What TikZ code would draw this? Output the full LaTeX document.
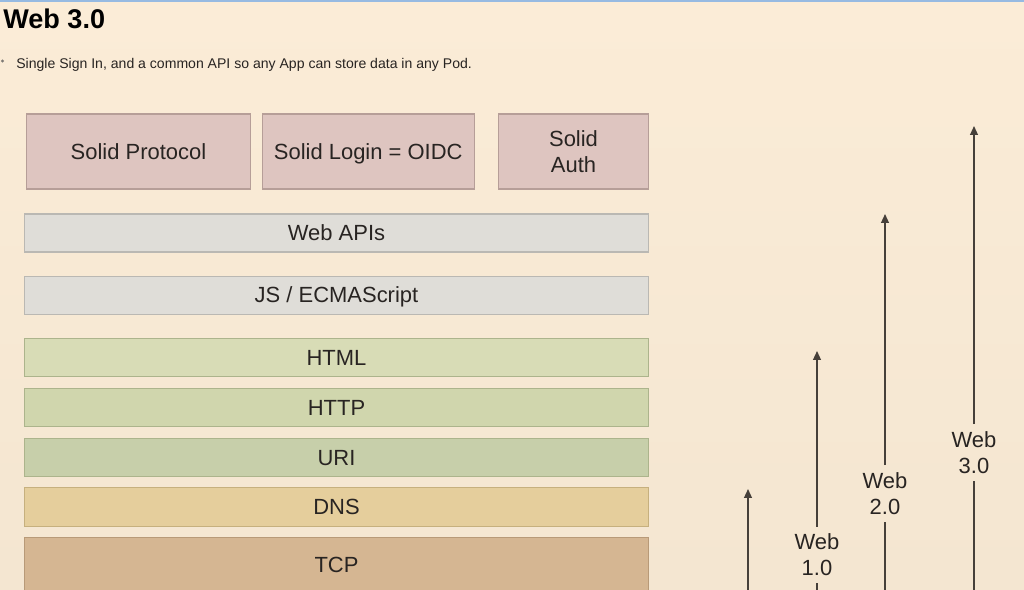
\documentclass[tikz,border=0pt]{standalone}
\usepackage{fontspec}
\setmainfont{Liberation Sans}
\usetikzlibrary{positioning,arrows.meta}
\usepackage{xcolor}
\definecolor{bgColor}{RGB}{251,236,215}
\definecolor{bgLowColor}{RGB}{244,230,209}
\definecolor{barColor}{RGB}{150,186,226}
\definecolor{inkColor}{RGB}{40,36,34}
\definecolor{solidColor}{RGB}{222,197,192}
\definecolor{solidEdge}{RGB}{182,158,152}
\definecolor{apiColor}{RGB}{223,221,216}
\definecolor{apiEdge}{RGB}{186,184,179}
\definecolor{htmlColor}{RGB}{216,220,182}
\definecolor{httpColor}{RGB}{208,214,173}
\definecolor{uriColor}{RGB}{199,207,170}
\definecolor{webEdge}{RGB}{172,180,140}
\definecolor{dnsColor}{RGB}{229,206,156}
\definecolor{dnsEdge}{RGB}{198,176,126}
\definecolor{tcpColor}{RGB}{213,182,146}
\definecolor{tcpEdge}{RGB}{184,154,120}
\definecolor{arrowColor}{RGB}{70,64,58}
\newcommand{\boxfont}{\fontsize{12.5}{14.8}\selectfont}
\newcommand{\headfont}{\fontsize{15.4}{18}\selectfont\bfseries}
\newcommand{\notefont}{\fontsize{8}{9.6}\selectfont}

\begin{document}
\begin{tikzpicture}[x=0.02cm, y=-0.02cm,
        solid/.style={draw=solidEdge, fill=solidColor, line width=0.6pt, minimum height=1.5cm, inner sep=0pt, align=center, font=\boxfont, text=inkColor},
        oneline/.style={text height=9pt, text depth=0pt},
        layer/.style={draw, line width=0.6pt, minimum width=12.5cm, minimum height=0.76cm, inner sep=0pt, oneline, font=\boxfont, text=inkColor},
        era/.style={align=center, font=\boxfont, text=inkColor, inner xsep=1pt, inner ysep=4pt},
        stem/.style={line width=0.8pt, arrowColor},
        arr/.style={-{Triangle[length=5pt, width=4.4pt]}, line width=0.8pt, arrowColor}
      ]
      \useasboundingbox (0,0) rectangle (1024,589);
      \shade[top color=bgColor, bottom color=bgLowColor] (0,0) rectangle (1024,589);
      \draw[barColor, line width=1.2pt] (0,0.5) -- (1024,0.5);

      % heading
      \node[anchor=base west, inner sep=0pt, font=\headfont, text=black] (title) at (3,28) {Web 3.0};
      \fill[arrowColor!70] (2.5,61) circle (0.9pt);
      \node[anchor=base west, inner sep=0pt, font=\notefont, text=inkColor] (note) at (16,68) {Single Sign In, and a common API so any App can store data in any Pod.};

      % solid row
      \node[solid, oneline, minimum width=4.48cm] (proto) at (138.5,151.5) {Solid Protocol};
      \node[solid, oneline, minimum width=4.25cm, right=0.21cm of proto] (login) {Solid Login = OIDC};
      \node[solid, minimum width=3cm, right=0.46cm of login] (auth) {Solid\\Auth};

      % stack
      \node[layer, fill=apiColor, draw=apiEdge] (api) at (336.5,233) {Web APIs};
      \node[layer, fill=apiColor, draw=apiEdge, below=0.46cm of api] (js) {JS / ECMAScript};
      \node[layer, fill=htmlColor, draw=webEdge, below=0.46cm of js] (html) {HTML};
      \node[layer, fill=httpColor, draw=webEdge, below=0.22cm of html] (http) {HTTP};
      \node[layer, fill=uriColor, draw=webEdge, below=0.22cm of http] (uri) {URI};
      \node[layer, fill=dnsColor, draw=dnsEdge, minimum height=0.78cm, below=0.2cm of uri] (dns) {DNS};
      \node[layer, fill=tcpColor, draw=tcpEdge, minimum height=1.1cm, below=0.2cm of dns] (tcp) {TCP};

      % eras
      \coordinate (b0) at (748,600);
      \coordinate (t0) at (748,489);
      \draw[arr] (b0) -- (t0);

      \coordinate (b1) at (817,600);
      \coordinate (t1) at (817,351);
      \node[era] (w1) at (817,555) {Web\\1.0};
      \draw[stem] (b1) -- (w1);
      \draw[arr] (w1) -- (t1);

      \coordinate (b2) at (885,600);
      \coordinate (t2) at (885,214);
      \node[era] (w2) at (885,493.5) {Web\\2.0};
      \draw[stem] (b2) -- (w2);
      \draw[arr] (w2) -- (t2);

      \coordinate (b3) at (974,600);
      \coordinate (t3) at (974,126);
      \node[era] (w3) at (974,452.5) {Web\\3.0};
      \draw[stem] (b3) -- (w3);
      \draw[arr] (w3) -- (t3);
    \end{tikzpicture}
\end{document}
